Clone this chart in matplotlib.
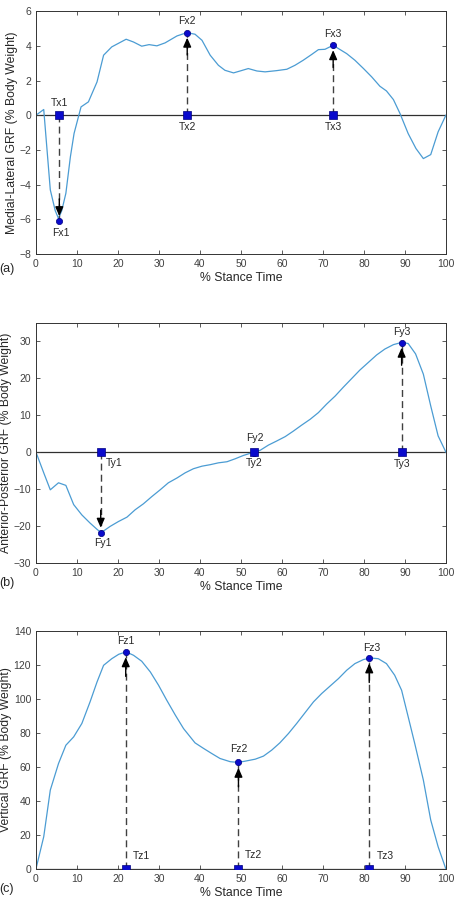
import matplotlib
matplotlib.use("Agg")
import matplotlib.pyplot as plt

plt.rcParams.update({
    "font.family": ["Liberation Sans", "DejaVu Sans"],
    "xtick.direction": "in",
    "ytick.direction": "in",
    "xtick.top": True,
    "ytick.right": True,
})

# (a) medial-lateral GRF
ml_t = [0, 1.9, 3.5, 4.7, 5.5, 6.3, 7.3, 8.4, 9.3, 11, 12.8, 14.9, 16.5, 18.5, 22, 23.8,
        25.8, 27.6, 29.5, 31.5, 34.4, 36.8, 38.8, 40.5, 42.5, 44.5, 46.1, 48.2, 49.8, 51.8,
        53.9, 55.9, 58.7, 61.2, 63.2, 65.2, 67.3, 68.9, 70.5, 71.7, 72.5, 73.8, 75.8, 77.8,
        79.9, 81.9, 83.9, 85.5, 87.2, 88.8, 90.8, 92.7, 94.5, 96.3, 98.1, 100]
ml_f = [0, 0.33, -4.3, -5.5, -5.95, -5.5, -4.5, -2.4, -1.05, 0.48, 0.77, 1.92, 3.46, 3.94,
        4.38, 4.22, 3.98, 4.07, 4.0, 4.17, 4.57, 4.76, 4.67, 4.32, 3.46, 2.88, 2.59, 2.44,
        2.55, 2.69, 2.55, 2.5, 2.57, 2.65, 2.88, 3.17, 3.51, 3.78, 3.8, 3.94, 4.03, 3.84,
        3.55, 3.17, 2.69, 2.21, 1.67, 1.4, 0.9, 0.1, -1.06, -1.92, -2.5, -2.27, -0.96, 0]
ml_peak_t = [5.7, 36.9, 72.5]
ml_peak_f = [-6.1, 4.75, 4.03]

# (b) anterior-posterior GRF
ap_t = [0, 1.9, 3.5, 5.5, 7.3, 9.2, 11.2, 13.2, 14.9, 15.9, 18.1, 20.1, 22.2, 24.2, 26.2,
        28.3, 30.3, 32.3, 34.4, 36.4, 38.4, 40.5, 42.5, 44.5, 46.6, 48.6, 50.6, 52.6, 54.7,
        56.7, 58.7, 60.8, 62.8, 64.8, 66.9, 68.9, 70.9, 73.0, 75.0, 77.0, 79.0, 81.1, 83.1,
        85.1, 87.2, 89.2, 90.8, 92.6, 94.5, 96.3, 98.1, 100]
ap_f = [0, -5.6, -10.2, -8.3, -9.0, -14.2, -17.0, -19.2, -20.9, -21.8, -20.1, -18.8, -17.6,
        -15.6, -14.0, -12.0, -10.2, -8.3, -7.0, -5.6, -4.5, -3.8, -3.4, -2.9, -2.6, -1.8,
        -0.9, -0.2, 0.5, 1.9, 3.0, 4.2, 5.7, 7.3, 8.9, 10.7, 13.0, 15.2, 17.6, 19.9, 22.2,
        24.3, 26.3, 27.9, 29.1, 29.7, 29.4, 26.6, 21.1, 12.5, 4.4, 0]
ap_peak_t = [15.8, 53.3, 89.2]
ap_peak_f = [-21.8, -0.2, 29.6]

# (c) vertical GRF
v_t = [0, 1.9, 3.5, 5.5, 7.3, 9.2, 11.2, 13.2, 14.9, 16.5, 18.5, 20.2, 22.0, 23.8, 25.8,
       27.9, 29.9, 31.9, 34.0, 36.0, 38.8, 40.9, 42.9, 44.9, 47.4, 49.4, 51.4, 53.5, 55.5,
       57.5, 59.5, 61.6, 63.6, 65.6, 67.7, 69.7, 71.7, 73.8, 75.8, 77.8, 79.9, 81.5, 83.5,
       85.5, 87.5, 89.2, 90.8, 92.4, 94.5, 96.3, 98.1, 100]
v_f = [0, 19, 46.4, 62, 72.8, 77.7, 85.6, 98.3, 110, 119.8, 123.7, 126.3, 127.7, 125.7,
       122.2, 115.9, 108.1, 99.3, 90.5, 82.6, 74.2, 70.9, 67.9, 65, 63.1, 62.7, 63.6, 64.6,
       66.4, 69.9, 74.2, 79.7, 85.6, 91.8, 98.3, 103.2, 107.5, 112, 116.9, 120.8, 123.2,
       124.1, 123.7, 120.8, 114, 105.1, 89.5, 73.8, 52.3, 28.8, 13.1, 0]
v_peak_t = [21.9, 49.4, 81.3]
v_peak_f = [127.7, 62.7, 124.1]

LINE = "#4b9cd3"
MARK = "#0a0acc"
TXT = "#262626"
TICK = "#404040"


def panel(ax, t, f, pt, pf, ylim, yticks, ylabel, fname, tname, f_off, t_off, head):
    ax.plot(t, f, color=LINE, lw=0.9, zorder=2)
    ax.axhline(0, color="#303030", lw=0.9, zorder=1)
    for i, (x, y) in enumerate(zip(pt, pf)):
        d = 1 if y > 0 else -1
        if abs(y) > head * 2:
            ax.plot([x, x], [0, y], ls=(0, (5, 3)), color="#404040", lw=1.0, zorder=3)
            ax.annotate("", xy=(x, y - d * head * 0.35), xytext=(x, y - d * head * 1.6),
                        arrowprops=dict(arrowstyle="-|>,head_length=0.55,head_width=0.24",
                                        color="black", lw=1.0, shrinkA=0, shrinkB=0), zorder=4)
        ax.plot(x, y, "o", ms=4.5, color=MARK, mec="#000080", mew=0.5, zorder=5)
        ax.plot(x, 0, "s", ms=5.5, color=MARK, mec="#000080", mew=0.5, zorder=6)
        ax.annotate(f"{fname}{i + 1}", (x, y), xytext=f_off[i], textcoords="offset points",
                    ha="center", va="center", fontsize=7.5, color=TXT)
        ax.annotate(f"{tname}{i + 1}", (x, 0), xytext=t_off[i], textcoords="offset points",
                    ha="center", va="center", fontsize=7.5, color=TXT)
    ax.set_xlim(0, 100)
    ax.set_ylim(*ylim)
    ax.set_xticks(range(0, 101, 10))
    ax.set_yticks(yticks)
    ax.tick_params(labelsize=7.5, colors=TICK, length=3, width=0.6, pad=3.5)
    for s in ax.spines.values():
        s.set_color("#333333")
        s.set_linewidth(0.7)
    ax.set_xlabel("% Stance Time", fontsize=8.8, color=TXT, labelpad=2)
    ax.set_ylabel(ylabel, fontsize=8.8, color=TXT, labelpad=1)


fig = plt.figure(figsize=(4.55, 9.13), dpi=100)
ax1 = fig.add_axes([0.079, 0.7218, 0.901, 0.266])
ax2 = fig.add_axes([0.079, 0.3834, 0.901, 0.263])
ax3 = fig.add_axes([0.079, 0.0482, 0.901, 0.2607])

panel(ax1, ml_t, ml_f, ml_peak_t, ml_peak_f, (-8, 6), range(-8, 7, 2),
      "Medial-Lateral GRF (% Body Weight)", "Fx", "Tx",
      [(1, -8.5), (0, 8.5), (0, 8)], [(0, 9), (0, -8.7), (0, -8.7)], 0.8)
panel(ax2, ap_t, ap_f, ap_peak_t, ap_peak_f, (-30, 35), range(-30, 31, 10),
      "Anterior-Posterior GRF (% Body Weight)", "Fy", "Ty",
      [(1.7, -7.2), (0, 10.5), (0, 7.7)], [(9.4, -7.7), (0, -7.7), (0.7, -8.6)], 3.8)
panel(ax3, v_t, v_f, v_peak_t, v_peak_f, (0, 140), range(0, 141, 20),
      "Vertical GRF (% Body Weight)", "Fz", "Tz",
      [(0, 7.9), (0, 9.8), (1.7, 7.2)], [(11.5, 9.4), (11, 10), (11.5, 9.4)], 9)

fig.text(7 / 455, 1 - 269 / 913, "(a)", fontsize=9, color=TXT, ha="center", va="center")
fig.text(7 / 455, 1 - 583 / 913, "(b)", fontsize=9, color=TXT, ha="center", va="center")
fig.text(7 / 455, 1 - 889 / 913, "(c)", fontsize=9, color=TXT, ha="center", va="center")

fig.savefig("out.png", dpi=100)
